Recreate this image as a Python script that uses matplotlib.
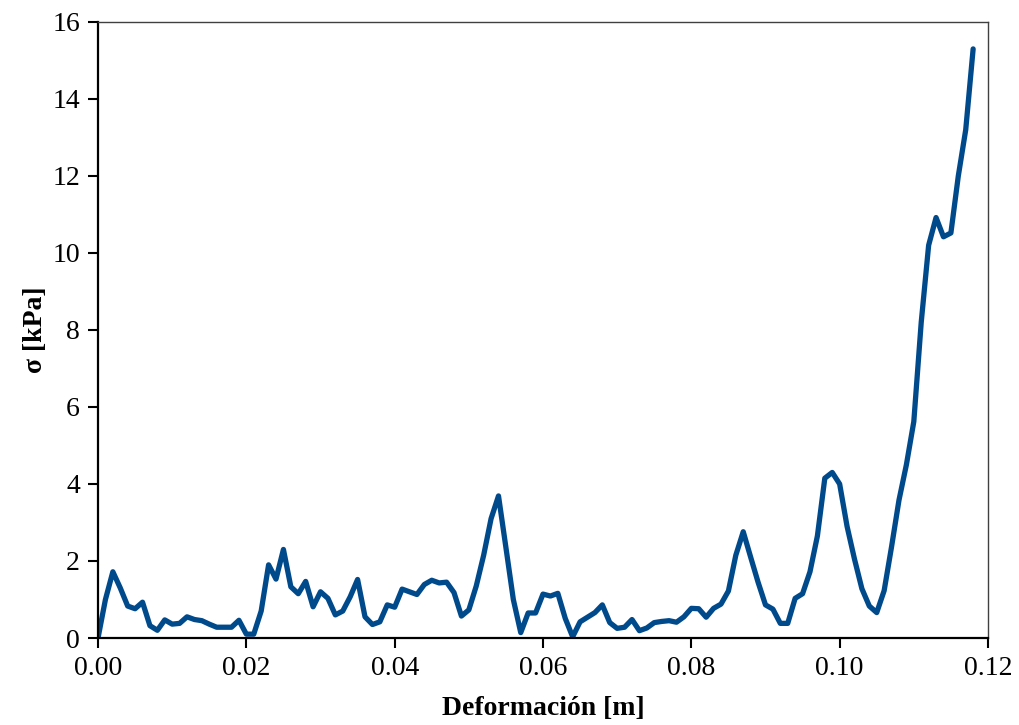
import matplotlib
matplotlib.use("Agg")
import matplotlib.pyplot as plt
from matplotlib.ticker import FormatStrFormatter, MultipleLocator

# deformation [m] and stress [kPa]
deformacion = [
    0.000, 0.001, 0.002, 0.003, 0.004, 0.005, 0.006, 0.007, 0.008, 0.009,
    0.010, 0.011, 0.012, 0.013, 0.014, 0.015, 0.016, 0.017, 0.018, 0.019,
    0.020, 0.021, 0.022, 0.023, 0.024, 0.025, 0.026, 0.027, 0.028, 0.029,
    0.030, 0.031, 0.032, 0.033, 0.034, 0.035, 0.036, 0.037, 0.038, 0.039,
    0.040, 0.041, 0.042, 0.043, 0.044, 0.045, 0.046, 0.047, 0.048, 0.049,
    0.050, 0.051, 0.052, 0.053, 0.054, 0.055, 0.056, 0.057, 0.058, 0.059,
    0.060, 0.061, 0.062, 0.063, 0.064, 0.065, 0.066, 0.067, 0.068, 0.069,
    0.070, 0.071, 0.072, 0.073, 0.074, 0.075, 0.076, 0.077, 0.078, 0.079,
    0.080, 0.081, 0.082, 0.083, 0.084, 0.085, 0.086, 0.087, 0.088, 0.089,
    0.090, 0.091, 0.092, 0.093, 0.094, 0.095, 0.096, 0.097, 0.098, 0.099,
    0.100, 0.101, 0.102, 0.103, 0.104, 0.105, 0.106, 0.107, 0.108, 0.109,
    0.110, 0.111, 0.112, 0.113, 0.114, 0.115, 0.116, 0.117, 0.118,
]
sigma = [
    0.0, 1.0, 1.72, 1.3, 0.83, 0.76, 0.93, 0.32, 0.2, 0.47,
    0.36, 0.38, 0.55, 0.48, 0.45, 0.36, 0.28, 0.28, 0.28, 0.46,
    0.1, 0.1, 0.7, 1.9, 1.53, 2.3, 1.33, 1.15, 1.47, 0.81,
    1.2, 1.03, 0.6, 0.7, 1.07, 1.52, 0.55, 0.35, 0.42, 0.86,
    0.8, 1.27, 1.2, 1.13, 1.39, 1.5, 1.43, 1.45, 1.18, 0.57,
    0.73, 1.35, 2.15, 3.1, 3.69, 2.35, 1.0, 0.14, 0.65, 0.65,
    1.14, 1.09, 1.16, 0.51, 0.03, 0.42, 0.54, 0.66, 0.86, 0.4,
    0.25, 0.28, 0.48, 0.19, 0.26, 0.4, 0.43, 0.45, 0.41, 0.55,
    0.77, 0.76, 0.54, 0.77, 0.88, 1.22, 2.15, 2.76, 2.1, 1.45,
    0.86, 0.75, 0.38, 0.38, 1.03, 1.15, 1.72, 2.65, 4.15, 4.3,
    4.0, 2.9, 2.05, 1.28, 0.83, 0.66, 1.23, 2.37, 3.58, 4.5,
    5.62, 8.2, 10.2, 10.92, 10.42, 10.52, 12.0, 13.2, 15.3,
]

plt.rcParams['font.family'] = ['Liberation Serif', 'DejaVu Serif']

fig = plt.figure(figsize=(10.2, 7.25), dpi=100)
ax = fig.add_axes([0.0961, 0.12, 0.8725, 0.8497])

ax.plot(deformacion, sigma, color='#004a8c', linewidth=3.8,
        solid_joinstyle='round', solid_capstyle='round')

ax.set_xlim(0, 0.12)
ax.set_ylim(0, 16)
ax.xaxis.set_major_locator(MultipleLocator(0.02))
ax.yaxis.set_major_locator(MultipleLocator(2))
ax.xaxis.set_major_formatter(FormatStrFormatter('%.2f'))
ax.tick_params(direction='out', length=7, width=1.5, labelsize=20, pad=6)

ax.spines['left'].set_linewidth(1.6)
ax.spines['bottom'].set_linewidth(1.6)
for side in ('top', 'right'):
    ax.spines[side].set_linewidth(1.0)
    ax.spines[side].set_color('#404040')

ax.set_xlabel('Deformación [m]', fontsize=20, fontweight='bold', labelpad=11)
ax.set_ylabel('σ [kPa]', fontsize=20, fontweight='bold', labelpad=3)

fig.savefig('out.png', dpi=100)
plt.close(fig)
